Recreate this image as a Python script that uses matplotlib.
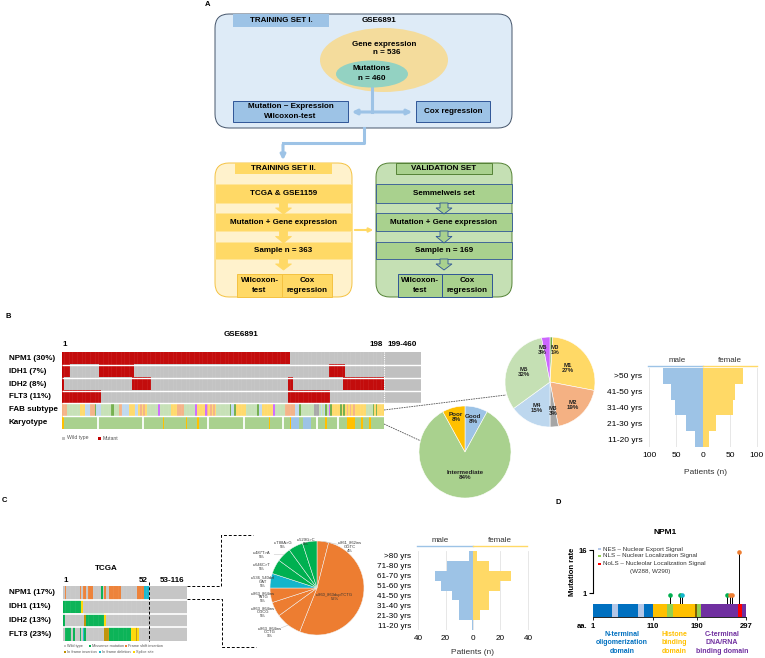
import numpy as np
import matplotlib.pyplot as plt
from matplotlib.colors import to_rgb
from matplotlib.patches import FancyBboxPatch, Ellipse, Rectangle, Polygon

plt.rcParams['font.family'] = ['Liberation Sans', 'DejaVu Sans']

# ---- panel B data (GSE6891, samples 1-198 drawn, 199-460 collapsed) ----
b_rows = ['NPM1 (30%)', 'IDH1 (7%)', 'IDH2 (8%)', 'FLT3 (11%)', 'FAB subtype', 'Karyotype']
b_n = 198
b_mut = [[(1, 140)],
         [(1, 5), (24, 44), (165, 174)],
         [(1, 1), (44, 55), (140, 142), (174, 198)],
         [(1, 24), (140, 165)]]
# FAB subtype per sample (digit = M0..M6)
fab_codes = ('222' '55555555' '111' '444' '222' '0' '444' '555555' '00' '555' '22'
             '4444' '1111' '44' '12121' '5555555' '6' '5555555' '1111' '2222'
             '5555555' '6' '11111' '6' '212121' '55555555' '0' '44' '0' '111111'
             '5555555' '0' '44' '1111111' '6' '555555' '222222' '444' '0'
             '55555555' '333' '5454' '0' '5' '6' '0' '11111' '0' '1' '0'
             '1212121' '111111' '5555' '0' '1' '0' '1111')
karyo_poor = [1, 63, 77, 84, 128, 141, 163, 176, 177, 178, 179, 180, 185, 190]
karyo_good = [142, 143, 144, 145, 146, 149, 150, 151, 152, 153]
karyo_breaks = [22, 50, 90, 112, 136, 157, 170]

fab_names = ['M0', 'M1', 'M2', 'M3', 'M4', 'M5', 'M6']
fab_pct = [1, 27, 19, 3, 15, 32, 3]
karyo_names = ['Good', 'Intermediate', 'Poor']
karyo_pct = [8, 84, 8]

age_b = ['>50 yrs', '41-50 yrs', '31-40 yrs', '21-30 yrs', '11-20 yrs']
male_b = [74, 60, 52, 31, 15]
female_b = [74, 59, 56, 24, 11]

# ---- panel C data (TCGA, samples 1-52 drawn, 53-116 collapsed) ----
c_rows = ['NPM1 (17%)', 'IDH1 (11%)', 'IDH2 (13%)', 'FLT3 (23%)']
c_n = 52
# w wild type, m missense, f frame shift ins, i in frame ins, d in frame del, s splice
c_codes = ['wf' + 'w' * 8 + 'fwffwfff' + 'w' * 5 + 'mwfww' + 'f' * 7 + 'w' * 10 + 'ffff' + 'ddd',
           'm' * 11 + 's' + 'w' * 40,
           'm' + 'w' * 12 + 'i' + 'm' * 11 + 's' + 'w' * 26,
           'wmmmmwmwwwmwdm' + 'w' * 11 + 'iii' + 'm' * 13 + 'sssis' + 'w' * 6]
npm1_var = ['c.861_862ins\nGGTC', 'c.860_863dupTCTG', 'c.863_864ins\nCCTG',
            'c.863_864ins\nCGCG', 'c.863_864ins\nTATG', 'c.536_540del\nGAT',
            'c.646C>T', 'c.487T>A', 'c.T88A>G', 'c.529G>C']
npm1_var_pct = [4, 52, 9, 5, 5, 5, 5, 5, 5, 5]
npm1_var_type = ['f', 'f', 'f', 'f', 'f', 'd', 'm', 'm', 'm', 'm']

age_c = ['>80 yrs', '71-80 yrs', '61-70 yrs', '51-60 yrs', '41-50 yrs',
         '31-40 yrs', '21-30 yrs', '11-20 yrs']
male_c = [3, 19, 28, 23, 15, 10, 10, 1]
female_c = [3, 12, 28, 20, 12, 12, 5, 0]

# ---- panel D data (NPM1 protein) ----
dom_start = [1, 36, 46, 83, 94, 110, 135, 146, 186, 190, 199, 280, 288]
dom_end = [36, 46, 83, 94, 110, 135, 146, 186, 190, 199, 280, 288, 297]
dom_kind = ['olig', 'NES', 'olig', 'NES', 'olig', 'hist', 'NLS', 'hist', 'link',
            'NLS', 'dna', 'NoLS', 'dna']
mut_pos = [141, 159, 163, 256, 262, 266, 281]
mut_rate = [1, 1, 1, 1, 1, 1, 16]
mut_type = ['m', 'm', 'd', 'm', 'f', 'f', 'f']

# ---- colours ----
wt_col, mut_col = '#c0c0c0', '#c00000'
fab_colors = ['#70ad47', '#ffd966', '#f4b183', '#a5a5a5', '#bdd7ee', '#c5e0b4', '#cc66ff']
karyo_colors = {'G': '#9dc3e6', 'I': '#a9d18e', 'P': '#ffc000'}
c_colors = {'w': '#c6c6c6', 'm': '#00b050', 'f': '#ed7d31', 'i': '#bf9000',
            'd': '#12b5cb', 's': '#ffd700'}
dom_colors = {'olig': '#0070c0', 'NES': '#b4c7e7', 'hist': '#ffc000', 'NLS': '#92d050',
              'link': '#806000', 'dna': '#7030a0', 'NoLS': '#ff0000'}
male_col, female_col = '#9dc3e6', '#ffd966'

W, H = 765, 658
fig = plt.figure(figsize=(W / 100, H / 100), dpi=100)


def px_axes(x0, y0, x1, y1):
    a = fig.add_axes([x0 / W, 1 - y1 / H, (x1 - x0) / W, (y1 - y0) / H])
    a.set_facecolor('none')
    return a


ov = fig.add_axes([0, 0, 1, 1])
ov.set_xlim(0, W)
ov.set_ylim(H, 0)
ov.axis('off')


def box(x0, y0, x1, y1, fc, ec='none', r=0, lw=0.7, z=1):
    if r:
        p = FancyBboxPatch((x0, y0), x1 - x0, y1 - y0, boxstyle=f'round,pad=0,rounding_size={r}',
                           fc=fc, ec=ec, lw=lw, zorder=z)
    else:
        p = Rectangle((x0, y0), x1 - x0, y1 - y0, fc=fc, ec=ec, lw=lw, zorder=z)
    ov.add_patch(p)


def txt(x, y, s, size=5.8, weight='bold', ha='center', **kw):
    ov.text(x, y, s, fontsize=size, fontweight=weight, ha=ha, va='center', zorder=5, **kw)


def chevron(xc, y0, y1, fc, ec):
    ym = y0 + (y1 - y0) * 0.45
    pts = [(xc - 4, y0), (xc + 4, y0), (xc + 4, ym), (xc + 8, ym), (xc, y1), (xc - 8, ym), (xc - 4, ym)]
    ov.add_patch(Polygon(pts, closed=True, fc=fc, ec=ec, lw=0.6, zorder=4))


# ================= A: flowchart =================
txt(208, 5, 'A', 5.5)
ac = '#9dc3e6'
box(215, 14, 512, 128, '#deebf7', '#44546a', r=14)
box(233, 14, 329, 27, '#9dc3e6')
txt(281, 20.5, 'TRAINING SET I.')
txt(379, 21, 'GSE6891')
ov.add_patch(Ellipse((384, 60), 128, 64, fc='#f4dc9c', ec='none', zorder=2))
ov.add_patch(Ellipse((372, 74), 72, 27, fc='#93d2c2', ec='none', zorder=3))
txt(384, 44, 'Gene expression')
txt(387, 53, 'n = 536')
txt(372, 69, 'Mutations')
txt(372, 79, 'n = 460')
ov.plot([372, 372], [88, 112], color=ac, lw=2.2, zorder=2)
ov.annotate('', xy=(349, 112), xytext=(415, 112),
            arrowprops=dict(arrowstyle='<|-|>', color=ac, lw=2.2, mutation_scale=7))
box(233, 101, 348, 122, '#9dc3e6', '#2f5597', z=3)
txt(290.5, 106.5, 'Mutation ~ Expression')
txt(290.5, 116, 'Wilcoxon-test')
box(416, 101, 490, 122, '#9dc3e6', '#2f5597', z=3)
txt(453, 111.5, 'Cox regression')
ov.plot([364, 364, 283], [128, 143, 143], color=ac, lw=2.2, zorder=2)
ov.annotate('', xy=(283, 163), xytext=(283, 142),
            arrowprops=dict(arrowstyle='-|>', color=ac, lw=2.2, mutation_scale=7))

bands_y = [(184, 203), (213, 231), (242, 259)]
# training set II
box(215, 163, 352, 297, '#fff2cc', '#f4c242', r=14)
box(235, 163, 332, 174, '#ffd966', z=2)
txt(283.5, 168.5, 'TRAINING SET II.')
for (y0, y1), s in zip(bands_y, ['TCGA & GSE1159', 'Mutation + Gene expression', 'Sample n = 363']):
    box(215, y0, 352, y1, '#ffd966', '#ffe699', lw=0.5, z=2)
    txt(283.5, (y0 + y1) / 2, s)
for y0, y1 in [(203, 214), (231, 243), (259, 270)]:
    chevron(283.5, y0, y1, '#ffd966', '#ffd966')
box(237, 274, 282, 297, '#ffd966', '#f4c242', z=2)
box(282, 274, 332, 297, '#ffd966', '#f4c242', z=2)
txt(259.5, 280.5, 'Wilcoxon-')
txt(259.5, 290, 'test')
txt(307, 280.5, 'Cox')
txt(307, 290, 'regression')
# validation
box(376, 163, 512, 297, '#c5e0b4', '#548235', r=14)
box(396, 163, 492, 174, '#a9d18e', '#548235', z=2)
txt(444, 168.5, 'VALIDATION SET')
for (y0, y1), s in zip(bands_y, ['Semmelweis set', 'Mutation + Gene expression', 'Sample n = 169']):
    box(376, y0, 512, y1, '#a9d18e', '#2f5597', lw=0.6, z=2)
    txt(444, (y0 + y1) / 2, s)
for y0, y1 in [(203, 214), (231, 243), (259, 270)]:
    chevron(444, y0, y1, '#a9d18e', '#2f5597')
box(398, 274, 442, 297, '#a9d18e', '#2f5597', z=2)
box(442, 274, 492, 297, '#a9d18e', '#2f5597', z=2)
txt(420, 280.5, 'Wilcoxon-')
txt(420, 290, 'test')
txt(467, 280.5, 'Cox')
txt(467, 290, 'regression')
ov.annotate('', xy=(376, 230), xytext=(352, 230),
            arrowprops=dict(arrowstyle='-|>', color='#ffd966', lw=1.5, mutation_scale=6))

# ================= B: heatmap =================
txt(8, 316, 'B', 5.5)
txt(241, 335, 'GSE6891')
txt(62, 345, '1', ha='left')
txt(376, 345, '198')
txt(402, 345, '199-460')
b_block = 22.8
axb = px_axes(62, 352, 421, 429)
mut_img = np.empty((4, b_n, 3))
mut_img[:] = to_rgb(wt_col)
for i, ranges in enumerate(b_mut):
    for s, e in ranges:
        mut_img[i, s - 1:e] = to_rgb(mut_col)
axb.imshow(mut_img, extent=(0, b_n, 4, 0), aspect='auto', interpolation='nearest')
fab_img = np.array([[to_rgb(fab_colors[int(c)]) for c in fab_codes]])
axb.imshow(fab_img, extent=(0, b_n, 5, 4), aspect='auto', interpolation='nearest')
kar = ['I'] * b_n
for p in karyo_poor:
    kar[p - 1] = 'P'
for p in karyo_good:
    kar[p - 1] = 'G'
kar_img = np.array([[to_rgb(karyo_colors[k]) for k in kar]])
axb.imshow(kar_img, extent=(0, b_n, 6, 5), aspect='auto', interpolation='nearest')
axb.add_patch(Rectangle((b_n, 0), b_block, 4, fc=wt_col, ec='none'))
axb.vlines(np.arange(1, b_n), 0, 5, colors='white', lw=0.2, alpha=0.35)
axb.hlines([1, 2, 3, 4, 5], 0, b_n + b_block, colors='white', lw=1.0)
axb.vlines(b_n, 0, 4, colors='white', linestyles=(0, (1, 1)), lw=0.8)
axb.vlines(karyo_breaks, 5, 6, colors='white', lw=1.3)
axb.set_xlim(0, b_n + b_block)
axb.set_ylim(6, 0)
axb.axis('off')
for i, lab in enumerate(b_rows):
    txt(9, 352 + (i + 0.5) * 77 / 6, lab, ha='left')
ov.add_patch(Rectangle((62, 436.5), 3, 3, fc=wt_col, ec='none'))
txt(67, 438, 'Wild type', 3.7, 'normal', ha='left', color='#555555')
ov.add_patch(Rectangle((98, 436.5), 3, 3, fc=mut_col, ec='none'))
txt(103, 438, 'Mutant', 3.7, 'normal', ha='left', color='#555555')
ov.plot([384, 506], [410, 395], color='#555555', lw=0.6, ls=(0, (2, 1)))
ov.plot([384, 421], [424, 441], color='#555555', lw=0.6, ls=(0, (2, 1)))

# pies
pie_lab_r1 = [0.72, 0.5, 0.72, 0.65, 0.66, 0.62, 0.72]
pie_ha1 = ['left', 'center', 'center', 'center', 'center', 'center', 'right']
axp1 = px_axes(505, 337, 595, 427)
w1, _ = axp1.pie(fab_pct, colors=fab_colors, startangle=90, counterclock=False,
                 wedgeprops=dict(ec='white', lw=0.4))
for w, n, p, r, ha in zip(w1, fab_names, fab_pct, pie_lab_r1, pie_ha1):
    a = np.deg2rad((w.theta1 + w.theta2) / 2)
    axp1.text(r * np.cos(a), r * np.sin(a), f'{n}\n{p}%', fontsize=4.4, fontweight='bold',
              ha=ha, va='center', linespacing=1.0, color='#222222')
axp1.set_xlim(-1, 1)
axp1.set_ylim(-1, 1)

pie_lab_r2 = [0.73, 0.5, 0.79]
axp2 = px_axes(419, 406, 511, 498)
w2, _ = axp2.pie(karyo_pct, colors=[karyo_colors[k[0]] for k in karyo_names], startangle=90,
                 counterclock=False, wedgeprops=dict(ec='white', lw=0.4))
for w, n, p, r in zip(w2, karyo_names, karyo_pct, pie_lab_r2):
    a = np.deg2rad((w.theta1 + w.theta2) / 2)
    axp2.text(r * np.cos(a), r * np.sin(a), f'{n}\n{p}%', fontsize=4.5, fontweight='bold',
              ha='center', va='center', linespacing=1.0, color='#222222')
axp2.set_xlim(-1, 1)
axp2.set_ylim(-1, 1)


def pyramid(ax, labels, male, female, lim, ticks, size):
    y = np.arange(len(labels))
    ax.barh(y, [-m for m in male], height=1.0, color=male_col, zorder=2)
    ax.barh(y, female, height=1.0, color=female_col, zorder=2)
    ax.set_ylim(len(labels) - 0.5, -0.5)
    ax.set_xlim(-lim, lim)
    ax.set_yticks(y, labels, fontsize=size)
    ax.set_xticks(ticks, [str(abs(t)) for t in ticks], fontsize=size)
    ax.tick_params(length=0, pad=3.5)
    for s in ax.spines.values():
        s.set_visible(False)
    ax.grid(axis='x', color='#e3e3e3', lw=0.6, zorder=0)
    ax.set_axisbelow(True)


axpb = px_axes(647, 368, 759, 447)
pyramid(axpb, age_b, male_b, female_b, 104, [-100, -50, 0, 50, 100], 6)
ov.plot([648, 703], [366, 366], color=male_col, lw=1)
ov.plot([703, 757], [366, 366], color=female_col, lw=1)
txt(677, 361, 'male', 5.8, 'normal', color='#333333')
txt(730, 361, 'female', 5.8, 'normal', color='#333333')
txt(706, 472, 'Patients (n)', 6, 'normal', color='#333333')

# ================= C =================
txt(4, 500, 'C', 5.5)
txt(106, 568, 'TCGA')
txt(63, 581, '1', ha='left')
txt(143, 581, '52')
txt(172, 581, '53-116')
c_block = 23
axc = px_axes(63, 586, 187, 641)
c_img = np.array([[to_rgb(c_colors[k]) for k in row] for row in c_codes])
axc.imshow(c_img, extent=(0, c_n, 4, 0), aspect='auto', interpolation='nearest')
axc.add_patch(Rectangle((c_n, 0), c_block, 4, fc=c_colors['w'], ec='none'))
axc.vlines(np.arange(1, c_n), 0, 4, colors='white', lw=0.2, alpha=0.35)
axc.hlines([1, 2, 3], 0, c_n + c_block, colors='white', lw=1.2)
axc.vlines(c_n, -0.3, 4, colors='black', linestyles=(0, (3, 2)), lw=0.7, clip_on=False)
axc.set_xlim(0, c_n + c_block)
axc.set_ylim(4, 0)
axc.axis('off')
for i, lab in enumerate(c_rows):
    txt(9, 586 + (i + 0.5) * 55 / 4, lab, ha='left')
leg_rows = [[('w', 'Wild type', 64), ('m', 'Missense mutation', 89), ('f', 'Frame shift insertion', 125)],
            [('i', 'In frame insertion', 64), ('d', 'In frame deletion', 99), ('s', 'Splice site', 133)]]
for yy, row in zip([646, 652], leg_rows):
    for k, s, xx in row:
        ov.add_patch(Rectangle((xx, yy - 1.2), 2.4, 2.4, fc=c_colors[k], ec='none'))
        txt(xx + 3.3, yy, s, 2.8, 'normal', ha='left', color='#555555')
ov.plot([187, 221, 221, 253], [586, 586, 535, 535], color='black', lw=0.7, ls=(0, (3, 2)))
ov.plot([187, 222, 222, 256], [599, 599, 647, 647], color='black', lw=0.7, ls=(0, (3, 2)))

pc_label_pos = [(0.70, 0.88), (0.38, -0.19), (-1.0, -0.94), (-1.15, -0.51), (-1.15, -0.19),
                (-1.15, 0.13), (-1.17, 0.45), (-1.17, 0.71), (-0.72, 0.92), (-0.23, 0.97)]
axpc = px_axes(270, 541, 364, 635)
wc, _ = axpc.pie(npm1_var_pct, colors=[c_colors[t] for t in npm1_var_type], startangle=90,
                 counterclock=False, wedgeprops=dict(ec='#f2f2f2', lw=0.35))
for w, n, p, (lx, ly) in zip(wc, npm1_var, npm1_var_pct, pc_label_pos):
    a = np.deg2rad((w.theta1 + w.theta2) / 2)
    ex, ey = np.cos(a), np.sin(a)
    d = np.hypot(ex - lx, ey - ly)
    if d > 0.3 and (lx ** 2 + ly ** 2) > 1:
        f = 0.26 / d
        axpc.plot([ex, lx + (ex - lx) * f], [ey, ly + (ey - ly) * f], color='#c8c8c8',
                  lw=0.4, clip_on=False)
    axpc.text(lx, ly, f'{n}\n{p}%', fontsize=3.0, ha='center', va='center',
              linespacing=1.0, color='#333333', clip_on=False)
axpc.set_xlim(-1, 1)
axpc.set_ylim(-1, 1)

axpcc = px_axes(416, 551, 530, 630)
pyramid(axpcc, age_c, male_c, female_c, 41.5, [-40, -20, 0, 20, 40], 5.9)
axpcc.tick_params(axis='x', pad=3.5)
ov.plot([417, 473], [546, 546], color=male_col, lw=1)
ov.plot([473, 527], [546, 546], color=female_col, lw=1)
txt(440, 540, 'male', 5.8, 'normal', color='#333333')
txt(500, 540, 'female', 5.8, 'normal', color='#333333')
txt(473, 653, 'Patients (n)', 6, 'normal', color='#333333')

# ================= D =================
txt(558, 502, 'D', 5.5)
txt(665, 533, 'NPM1', 6)
aa_ticks = [1, 110, 190, 297]
aa_px = [0, 60, 104, 153]
axd = px_axes(593, 548, 746, 620)
axd.set_xscale('function', functions=(lambda v: np.interp(v, aa_ticks, aa_px),
                                      lambda v: np.interp(v, aa_px, aa_ticks)))
bar_top, bar_bot = -1.02, -2.23
for s, e, k in zip(dom_start, dom_end, dom_kind):
    axd.barh((bar_top + bar_bot) / 2, e - s, left=s, height=bar_top - bar_bot,
             color=dom_colors[k], zorder=2)
for p, r, t in zip(mut_pos, mut_rate, mut_type):
    yv = np.log2(r)
    axd.plot([p, p], [bar_top, yv - 0.15], color='black', lw=0.7, zorder=1)
    axd.plot(p, yv - 0.15, 'o', ms=3.3, color=c_colors[t], mec='none', zorder=3, clip_on=False)
axd.set_xlim(1, 297)
axd.set_ylim(-2.51, 4.19)
for s in ['top', 'right']:
    axd.spines[s].set_visible(False)
axd.spines['left'].set_bounds(0, 4)
axd.spines['left'].set_linewidth(0.8)
axd.spines['bottom'].set_position(('data', bar_bot))
axd.spines['bottom'].set_bounds(1, 297)
axd.spines['bottom'].set_linewidth(0.6)
axd.set_yticks([0, 4], ['1', '16'], fontsize=5.5, fontweight='bold')
axd.set_xticks(aa_ticks, [str(t) for t in aa_ticks], fontsize=5.5, fontweight='bold')
axd.tick_params(axis='y', length=3, width=0.8, pad=1.5)
axd.tick_params(axis='x', length=2.5, width=0.6, pad=1.5)
axd.minorticks_off()
txt(582, 626, 'aa.', 5.5)
ov.text(573, 572, 'Mutation rate', fontsize=5.5, fontweight='bold', rotation=90,
        ha='center', va='center')
for yy, k, s in [(549, 'NES', 'NES – Nuclear Export Signal'),
                 (556, 'NLS', 'NLS – Nuclear Localization Signal'),
                 (564, 'NoLS', 'NoLS – Nucleolar Localization Signal')]:
    ov.add_patch(Rectangle((598, yy - 1.3), 2.6, 2.6, fc=dom_colors[k], ec='none'))
    txt(603, yy, s, 4.5, 'normal', ha='left', color='#333333')
txt(650, 572, '(W288, W290)', 4.5, 'normal', color='#333333')
txt(622, 643, 'N-terminal\noligomerization\ndomain', 5, color=dom_colors['olig'], linespacing=1.25)
txt(674, 643, 'Histone\nbinding\ndomain', 5, color=dom_colors['hist'], linespacing=1.25)
txt(722, 643, 'C-terminal\nDNA/RNA\nbinding domain', 5, color=dom_colors['dna'], linespacing=1.25)

fig.savefig('out.png', dpi=100)
